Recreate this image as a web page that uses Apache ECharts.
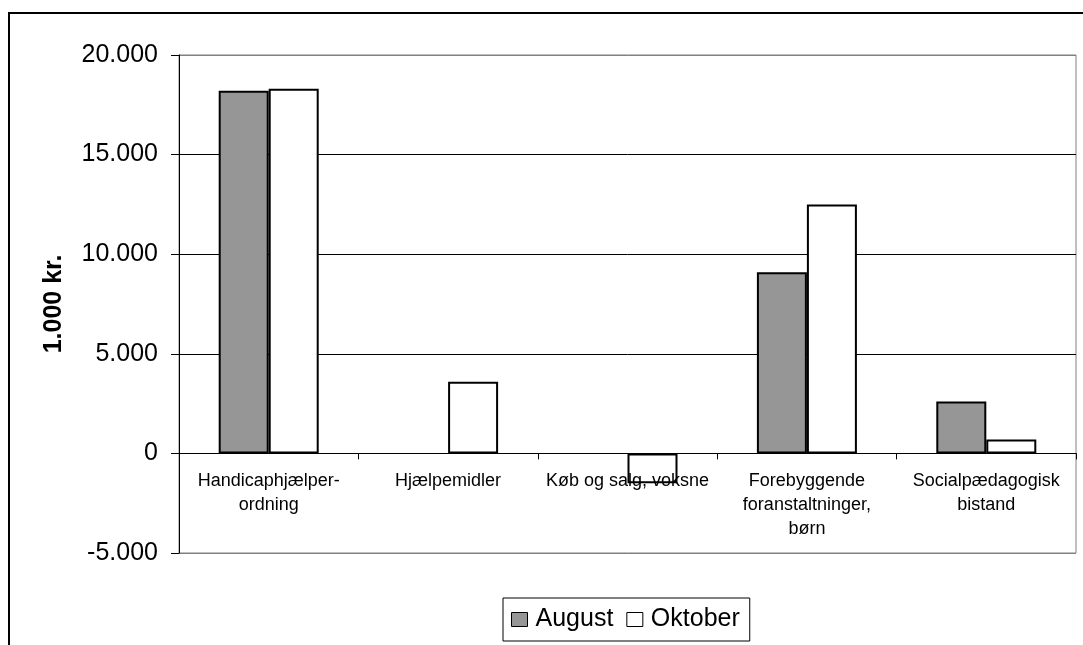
<!DOCTYPE html>
<html>
<head>
<meta charset="utf-8">
<script src="https://cdn.jsdelivr.net/npm/echarts@6/dist/echarts.min.js"></script>
<style>
  html, body { margin: 0; padding: 0; background: #fff; }
  #c1 { width: 1083px; height: 645px; }
</style>
</head>
<body>
<div id="c1"></div>
<script>
// kategorier og værdier (1.000 kr.)
var categories = [
  "Handicaphjælper-\nordning",
  "Hjælpemidler",
  "Køb og salg, voksne",
  "Forebyggende\nforanstaltninger,\nbørn",
  "Socialpædagogisk\nbistand"
];
var august = [18200, null, null, 9100, 2600];
var oktober = [18300, 3600, -1500, 12500, 700];
var yTicks = { min: -5000, max: 20000, interval: 5000 };

var font = "'Liberation Sans', Arial, sans-serif";

function fmt(v) {
  var s = Math.abs(v).toString().replace(/\B(?=(\d{3})+(?!\d))/g, ".");
  return (v < 0 ? "-" : "") + s;
}

var gridTop = 55;
var gridBottom = 92;
var plotH = 645 - gridTop - gridBottom;
// kategoriaksen ligger ved 0 (labels følger med)
var zeroOffset = -plotH * (0 - yTicks.min) / (yTicks.max - yTicks.min);

var chartDom = document.getElementById("c1");
var myChart = echarts.init(chartDom);
var option;

option = {
  animation: false,
  backgroundColor: "#fff",
  graphic: [
    {
      type: "rect",
      z: -10,
      shape: { x: 9, y: 13, width: 1200, height: 800 },
      style: { fill: "none", stroke: "#000", lineWidth: 2 }
    }
  ],
  grid: {
    left: 179,
    right: 7,
    top: gridTop,
    bottom: gridBottom,
    show: true,
    borderColor: "#808080",
    borderWidth: 1
  },
  legend: {
    data: ["August", "Oktober"],
    left: 503,
    top: 598,
    padding: [9, 10, 9, 8],
    itemWidth: 16,
    itemHeight: 14,
    itemGap: 13,
    icon: "rect",
    borderColor: "#000",
    borderWidth: 1,
    itemStyle: { borderColor: "#000", borderWidth: 1 },
    textStyle: { fontFamily: font, fontSize: 25, color: "#000", padding: [0, 0, 0, 3] }
  },
  xAxis: {
    type: "category",
    data: categories,
    position: "bottom",
    offset: zeroOffset,
    z: 3,
    axisLine: { onZero: false, lineStyle: { color: "#000", width: 1 } },
    axisTick: { show: true, length: 6, lineStyle: { color: "#000" } },
    axisLabel: {
      interval: 0,
      margin: 16,
      fontFamily: font,
      fontSize: 18,
      lineHeight: 24,
      color: "#000"
    },
    splitLine: { show: false }
  },
  yAxis: {
    type: "value",
    min: yTicks.min,
    max: yTicks.max,
    interval: yTicks.interval,
    name: "1.000 kr.",
    nameLocation: "middle",
    nameGap: 112,
    nameTextStyle: { fontFamily: font, fontSize: 25, fontWeight: "bold", color: "#000" },
    axisLine: { show: true, lineStyle: { color: "#000", width: 1 } },
    axisTick: { show: true, length: 8, lineStyle: { color: "#000" } },
    axisLabel: {
      margin: 21,
      fontFamily: font,
      fontSize: 25,
      color: "#000",
      formatter: fmt
    },
    splitLine: {
      show: true,
      lineStyle: { color: ["#808080", "#000", "#000", "#000", "#000", "#808080"], width: 1 }
    }
  },
  series: [
    {
      name: "August",
      type: "bar",
      data: august,
      barWidth: 50,
      barGap: "0%",
      itemStyle: { color: "#969696", borderColor: "#000", borderWidth: 2 }
    },
    {
      name: "Oktober",
      type: "bar",
      data: oktober,
      barWidth: 50,
      barGap: "0%",
      itemStyle: { color: "#fff", borderColor: "#000", borderWidth: 2 }
    }
  ]
};
myChart.setOption(option);
window.addEventListener("resize", function () {
  myChart.resize();
});
</script>
</body>
</html>
